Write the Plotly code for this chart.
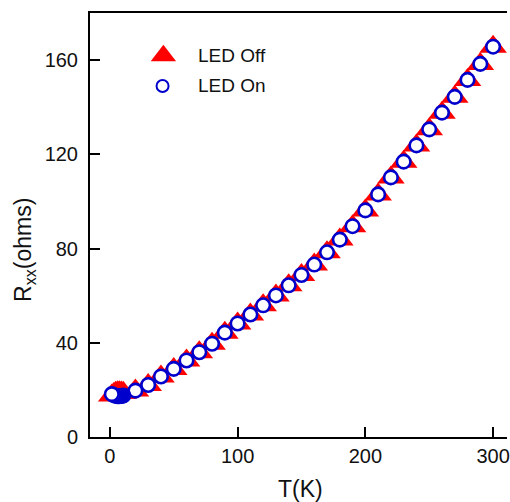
import plotly.graph_objects as go

# ---- data ----
T_off = [1.5, 3, 4.5, 6, 7.5, 9, 10.5, 20, 30, 40, 50, 60, 70, 80, 90, 100, 110, 120, 130, 140,
         150, 160, 170, 180, 190, 200, 210, 220, 230, 240, 250, 260, 270, 280, 290, 300]
R_off = [17.6, 18.3, 18.8, 19.0, 19.0, 18.9, 18.8, 19.7, 22.1, 25.7, 28.9, 32.5, 36.0, 39.6, 44.3,
         48.2, 52.0, 55.9, 60.1, 64.4, 68.8, 73.2, 78.4, 83.8, 89.5, 96.2, 103.0, 110.2, 116.9,
         123.8, 130.6, 137.7, 144.4, 151.6, 158.4, 165.7]
T_on = [1.5, 3, 4.5, 6, 7.5, 9, 10.5, 20, 30, 40, 50, 60, 70, 80, 90, 100, 110, 120, 130, 140,
        150, 160, 170, 180, 190, 200, 210, 220, 230, 240, 250, 260, 270, 280, 290, 300]
R_on = [18.2, 17.8, 17.5, 17.3, 17.3, 17.4, 17.6, 19.7, 22.1, 25.7, 28.9, 32.5, 36.0, 39.6, 44.3,
        48.2, 52.0, 55.9, 60.1, 64.4, 68.8, 73.2, 78.4, 83.8, 89.5, 96.2, 103.0, 110.2, 116.9,
        123.8, 130.6, 137.7, 144.4, 151.6, 158.4, 165.7]
series_names = ["LED Off", "LED On"]
x_ticks = [0, 100, 200, 300]
y_ticks = [0, 40, 80, 120, 160]

FONT = "Arial, Liberation Sans, sans-serif"
RED = "#ff0000"
BLUE = "#0000cc"

fig = go.Figure()
# draw in descending T so low-T points end on top
fig.add_trace(go.Scatter(x=T_off[::-1], y=R_off[::-1], mode="markers", name=series_names[0],
                         marker=dict(symbol="triangle-up", size=24, color=RED, line=dict(width=0)),
                         showlegend=False))
fig.add_trace(go.Scatter(x=T_on[::-1], y=R_on[::-1], mode="markers", name=series_names[1],
                         marker=dict(symbol="circle", size=13.5, color="white",
                                     line=dict(color=BLUE, width=2.6)),
                         showlegend=False))

# legend drawn on an overlay axis (0..1) to keep the large marker sizes
leg_x = [0.176, 0.174]
leg_y = [0.899, 0.828]
fig.add_trace(go.Scatter(x=[leg_x[0]], y=[leg_y[0]], xaxis="x2", yaxis="y2", mode="markers",
                         marker=dict(symbol="triangle-up", size=22, color=RED), showlegend=False,
                         hoverinfo="skip"))
fig.add_trace(go.Scatter(x=[leg_x[1]], y=[leg_y[1]], xaxis="x2", yaxis="y2", mode="markers",
                         marker=dict(symbol="circle", size=12, color="white",
                                     line=dict(color=BLUE, width=2)),
                         showlegend=False, hoverinfo="skip"))
for name, yy in zip(series_names, leg_y):
    fig.add_annotation(text=name, x=0.255, y=yy, xref="paper", yref="paper",
                       xanchor="left", yanchor="middle", showarrow=False,
                       font=dict(family=FONT, size=19, color="#111"))

# axis titles
fig.add_annotation(text="T(K)", x=0.505, y=-0.1226, xref="paper", yref="paper",
                   xanchor="center", yanchor="middle", showarrow=False,
                   font=dict(family=FONT, size=23, color="#111"))
fig.add_annotation(text="R<sub>xx</sub>(ohms)", x=-0.157, y=0.44, xref="paper", yref="paper",
                   xanchor="center", yanchor="middle", showarrow=False, textangle=-90,
                   font=dict(family=FONT, size=23, color="#111"))

fig.update_layout(
    width=510, height=502,
    margin=dict(l=90, r=0, t=13, b=65),
    paper_bgcolor="white", plot_bgcolor="white",
    font=dict(family=FONT, size=20, color="#111"),
    xaxis=dict(range=[-15.54, 310.9], tickvals=x_ticks, ticks="inside", ticklen=10, tickwidth=2,
               tickcolor="black", showline=True, linecolor="black", linewidth=2, mirror=True,
               showgrid=False, zeroline=False, ticklabeloverflow="allow",
               tickfont=dict(family=FONT, size=20, color="#111")),
    yaxis=dict(range=[0, 180], tickvals=y_ticks, ticks="inside", ticklen=10, tickwidth=2,
               tickcolor="black", showline=True, linecolor="black", linewidth=2, mirror=False,
               showgrid=False, zeroline=False, ticklabelstandoff=6,
               tickfont=dict(family=FONT, size=20, color="#111")),
    xaxis2=dict(range=[0, 1], overlaying="x", visible=False, fixedrange=True),
    yaxis2=dict(range=[0, 1], overlaying="y", visible=False, fixedrange=True),
    showlegend=False,
)

fig.write_html("out.html")
